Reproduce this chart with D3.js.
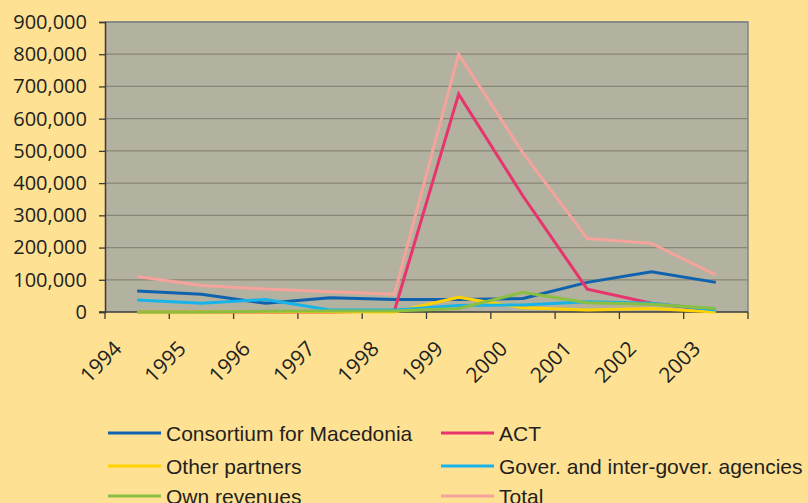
<!DOCTYPE html>
<html>
<head>
<meta charset="utf-8">
<script src="https://cdn.jsdelivr.net/npm/d3@7"></script>
<style>
  body { margin: 0; background: #fee192; }
  svg { display: block; }
</style>
</head>
<body>
<script>
const width = 808;
const height = 503;

// Data
const years = ["1994", "1995", "1996", "1997", "1998", "1999", "2000", "2001", "2002", "2003"];
const consortium = [65000, 55000, 27000, 44000, 39000, 39000, 42000, 92000, 125000, 92000];
const act = [0, 0, 0, 0, 3000, 676000, 360000, 71000, 27000, 5000];
const otherPartners = [0, 0, 1000, 1000, 0, 46000, 13000, 6000, 11000, 0];
const govAgencies = [37000, 27000, 39000, 6000, 6000, 20000, 22000, 32000, 27000, 6000];
const ownRevenues = [0, 0, 2000, 3000, 3000, 11000, 61000, 29000, 24000, 11000];
const total = [110000, 82000, 71000, 63000, 55000, 800000, 494000, 228000, 213000, 115000];
const yTicks = [0, 100000, 200000, 300000, 400000, 500000, 600000, 700000, 800000, 900000];

const series = [
  { name: "Consortium for Macedonia", values: consortium, color: "#0f62ae" },
  { name: "ACT", values: act, color: "#e8336c" },
  { name: "Other partners", values: otherPartners, color: "#ffd200" },
  { name: "Gover. and inter-gover. agencies", values: govAgencies, color: "#18b4e9" },
  { name: "Own revenues", values: ownRevenues, color: "#8bbf41" },
  { name: "Total", values: total, color: "#f5a39c" }
];

let margin = { top: 22, right: 60, bottom: 191, left: 105 };

let svg = d3
  .select("body")
  .append("svg")
  .attr("width", width)
  .attr("height", height);

let x = d3
  .scaleBand()
  .domain(years)
  .range([margin.left, width - margin.right])
  .padding(0);

let y = d3
  .scaleLinear()
  .domain([0, 900000])
  .range([height - margin.bottom, margin.top]);

// plot area
svg
  .append("rect")
  .attr("x", margin.left)
  .attr("y", margin.top)
  .attr("width", x.range()[1] - margin.left)
  .attr("height", y(0) - margin.top)
  .attr("fill", "#b3b19f");

// gridlines
svg
  .append("g")
  .selectAll("line")
  .data(yTicks.filter((d) => d > 0))
  .join("line")
  .attr("x1", margin.left)
  .attr("x2", x.range()[1])
  .attr("y1", (d) => y(d))
  .attr("y2", (d) => y(d))
  .attr("stroke", "#888676")
  .attr("stroke-width", 1.3);

// top and right border
svg
  .append("path")
  .attr("d", `M${margin.left},${margin.top}H${x.range()[1]}V${y(0)}`)
  .attr("fill", "none")
  .attr("stroke", "#7c878b")
  .attr("stroke-width", 1.5);

// left axis
let leftAxis = svg
  .append("g")
  .attr("transform", `translate(${margin.left},0)`)
  .call(d3.axisLeft(y).tickValues(yTicks).tickFormat(d3.format(",")).tickSize(6).tickPadding(12));

leftAxis.selectAll("text")
  .attr("font-family", "'Open Sans', sans-serif")
  .attr("font-size", 20)
  .attr("fill", "#231f20");

// bottom axis, ticks on band edges
let bottomAxis = svg.append("g");
bottomAxis
  .append("line")
  .attr("x1", margin.left - 6)
  .attr("x2", x.range()[1])
  .attr("y1", y(0))
  .attr("y2", y(0));
bottomAxis
  .selectAll(".tk")
  .data(years.concat(["end"]))
  .join("line")
  .attr("class", "tk")
  .attr("x1", (d, i) => margin.left + i * x.bandwidth())
  .attr("x2", (d, i) => margin.left + i * x.bandwidth())
  .attr("y1", y(0))
  .attr("y2", y(0) + 7);
bottomAxis.selectAll("line").attr("stroke", "#3a3a3a").attr("stroke-width", 1.3);

bottomAxis
  .selectAll("text")
  .data(years)
  .join("text")
  .attr("transform", (d) => `translate(${x(d) + 18},${y(0) + 38}) rotate(-45)`)
  .attr("text-anchor", "end")
  .attr("font-family", "'Open Sans', sans-serif")
  .attr("font-size", 21)
  .attr("fill", "#231f20")
  .text((d) => d);

leftAxis.select(".domain").attr("stroke", "#3a3a3a").attr("stroke-width", 1.5);
leftAxis.selectAll(".tick line").attr("stroke", "#3a3a3a").attr("stroke-width", 1.3);

// lines
let line = d3
  .line()
  .x((d, i) => x(years[i]) + x.bandwidth() / 2)
  .y((d) => y(d));

svg
  .append("g")
  .selectAll("path")
  .data(series)
  .join("path")
  .attr("d", (d) => line(d.values))
  .attr("fill", "none")
  .attr("stroke", (d) => d.color)
  .attr("stroke-width", 3)
  .attr("stroke-linejoin", "miter");

// legend, two columns (last row is clipped by the frame, as in the original)
let legendCols = [108, 441];
let legendRows = [433, 466, 496];
let legend = svg
  .append("g")
  .selectAll("g")
  .data(series)
  .join("g")
  .attr("transform", (d, i) => `translate(${legendCols[i % 2]},${legendRows[Math.floor(i / 2)]})`);

legend
  .append("line")
  .attr("x1", 0)
  .attr("x2", 53)
  .attr("stroke", (d) => d.color)
  .attr("stroke-width", 3);

legend
  .append("text")
  .attr("x", 58)
  .attr("dy", "0.36em")
  .attr("font-family", "'Liberation Sans', Arial, sans-serif")
  .attr("font-size", 21)
  .attr("fill", "#231f20")
  .text((d) => d.name);
</script>
</body>
</html>
